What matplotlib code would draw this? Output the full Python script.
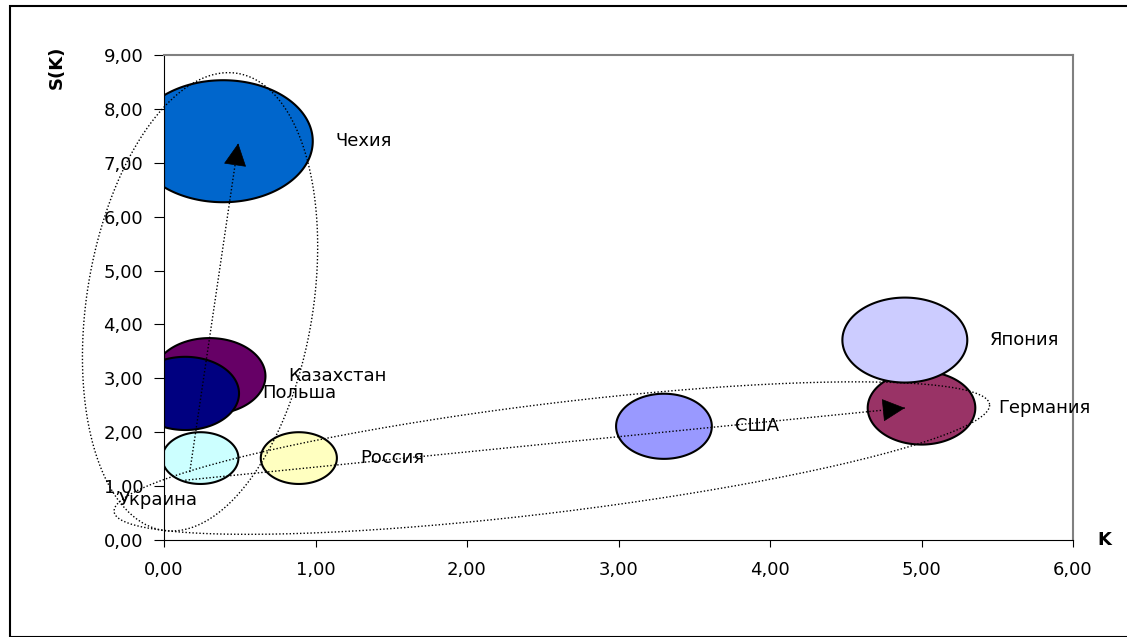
import numpy as np
import matplotlib
matplotlib.use('Agg')
import matplotlib.pyplot as plt
from matplotlib.patches import Rectangle
from matplotlib.ticker import FuncFormatter, MultipleLocator

plt.rcParams['font.family'] = ['DejaVu Sans']

# bubble data
countries = ['Чехия', 'Казахстан', 'Польша', 'Украина', 'Россия', 'США', 'Германия', 'Япония']
k_vals = [0.39, 0.30, 0.14, 0.24, 0.89, 3.30, 5.00, 4.89]
s_vals = [7.40, 3.04, 2.72, 1.52, 1.52, 2.11, 2.45, 3.71]
sizes = [100, 39, 36, 18, 18, 28.5, 36, 48.5]
colors = ['#0066CC', '#660066', '#000080', '#CCFFFF', '#FFFFC0', '#9999FF', '#993366', '#CCCCFF']

# hand drawn arrows (data coords: start, tip)
arrow_starts = [(0.17, 1.26), (0.14, 1.11)]
arrow_tips = [(0.49, 7.36), (4.89, 2.45)]

# dotted group ellipses: center (data), width/height in px, angle
group_centers = [(0.238, 4.42), (2.56, 1.52)]
group_widths = [463, 882]
group_heights = [226, 109]
group_angles = [80.7, 7.0]

W, H, DPI = 1127, 637, 100
fig = plt.figure(figsize=(W / DPI, H / DPI), dpi=DPI)
ax_l, ax_r, ax_t, ax_b = 164, 1073, 55, 540
ax = fig.add_axes([ax_l / W, 1 - ax_b / H, (ax_r - ax_l) / W, (ax_b - ax_t) / H])

# outer chart border
fig.patches.append(Rectangle((10 / W, 0), 2, 1 - 6 / H, transform=fig.transFigure,
                             fill=False, edgecolor='black', lw=1.5))

# pixels per data unit
sx = (ax_r - ax_l) / 6
sy = (ax_b - ax_t) / 9
t = np.linspace(0, 2 * np.pi, 300)

r_max = 61
stretch = 1.47
for name, k, s, sz, c in zip(countries, k_vals, s_vals, sizes, colors):
    r = r_max * np.sqrt(sz / max(sizes))
    ex = np.clip(k + stretch * r * np.cos(t) / sx, 0, None)  # cut at the y axis
    ey = s + r * np.sin(t) / sy
    ax.fill(ex, ey, facecolor=c, edgecolor='black', lw=1.5)
    if name == 'Украина':
        off = (-59, -30)
    else:
        off = ((stretch * r + 23) * 72 / DPI, 0)
    ax.annotate(name, (k, s), xytext=off, textcoords='offset points',
                ha='left', va='center', fontsize=13, annotation_clip=False)
ax.set_xlim(0, 6)
ax.set_ylim(0, 9)

# dotted group ellipses (tilted in screen space)
for (cx, cy), gw, gh, ga in zip(group_centers, group_widths, group_heights, group_angles):
    a, b, th = gw / 2, gh / 2, np.radians(ga)
    gx = cx + (a * np.cos(t) * np.cos(th) - b * np.sin(t) * np.sin(th)) / sx
    gy = cy + (a * np.cos(t) * np.sin(th) + b * np.sin(t) * np.cos(th)) / sy
    ax.plot(gx, gy, color='black', lw=1, linestyle=(0, (1, 1.5)), clip_on=False)

# dotted arrows with solid heads
for (x0, y0), (x1, y1) in zip(arrow_starts, arrow_tips):
    ax.plot([x0, x1], [y0, y1], color='black', lw=1, linestyle=(0, (1, 1.5)))
    dx, dy = (x1 - x0) * sx, (y1 - y0) * sy
    L = np.hypot(dx, dy)
    ax.annotate('', xy=(x1, y1), xytext=(-dx / L * 20 * 72 / DPI, -dy / L * 20 * 72 / DPI),
                textcoords='offset points',
                arrowprops=dict(arrowstyle='-|>,head_length=0.75,head_width=0.38',
                                mutation_scale=20, color='black', lw=0.5,
                                shrinkA=0, shrinkB=0))

# axes styling
ax.spines['top'].set_color('#808080')
ax.spines['right'].set_color('#808080')
ax.spines['top'].set_linewidth(1.5)
ax.spines['right'].set_linewidth(1.5)
ax.xaxis.set_major_locator(MultipleLocator(1))
ax.yaxis.set_major_locator(MultipleLocator(1))
fmt = FuncFormatter(lambda v, p: f'{v:.2f}'.replace('.', ','))
ax.xaxis.set_major_formatter(fmt)
ax.yaxis.set_major_formatter(fmt)
ax.tick_params(axis='y', direction='out', length=7, pad=8, labelsize=13)
ax.tick_params(axis='x', direction='out', length=5, pad=10, labelsize=13)

fig.text(57 / W, 1 - 67 / H, 'S(K)', rotation=90, fontweight='bold', fontsize=13,
         ha='center', va='center')
fig.text(1097 / W, 1 - 540 / H, 'K', fontweight='bold', fontsize=13,
         ha='left', va='center')

fig.savefig('out.png', dpi=DPI)
